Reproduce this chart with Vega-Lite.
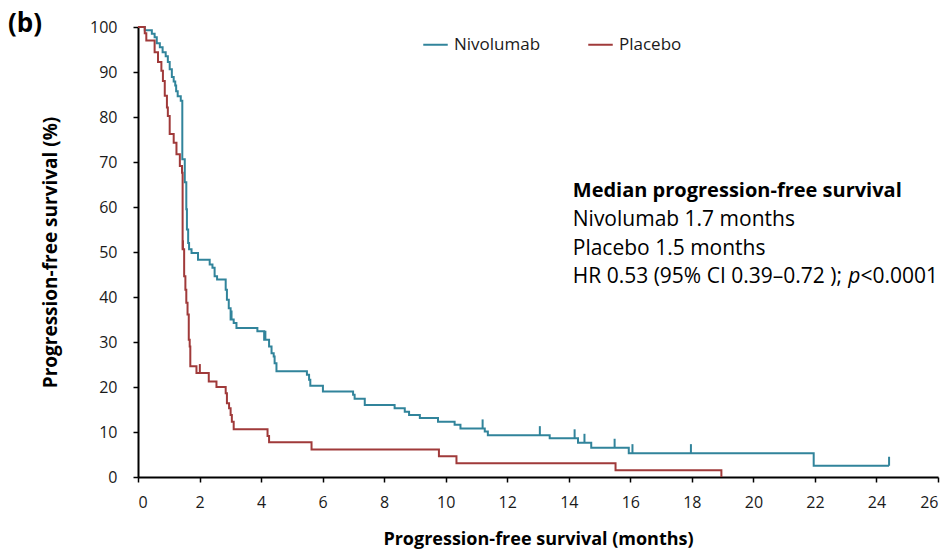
{
  "$schema": "https://vega.github.io/schema/vega-lite/v6.json",
  "width": 800,
  "height": 450,
  "autosize": {"type": "none"},
  "padding": {"left": 138, "top": 27, "right": 14, "bottom": 79},
  "background": "white",
  "config": {
    "font": "Open Sans",
    "view": {"stroke": null},
    "axis": {"grid": false, "domainColor": "black", "domainWidth": 2, "tickColor": "black", "tickWidth": 1.5, "tickSize": 5, "labelColor": "#1a1a1a", "labelFontSize": 16, "labelFont": "Open Sans", "titleFont": "Open Sans", "titleFontSize": 18, "titleFontWeight": "bold", "titleColor": "black"}
  },
  "title": {"text": "(b)", "anchor": "start", "frame": "group", "dx": -130, "fontSize": 26, "fontWeight": "bold", "font": "Open Sans", "color": "black", "offset": 0, "baseline": "middle", "dy": 31},
  "datasets": {
    "km": [
      {"group": "Nivolumab", "t": 0, "s": 100},
      {"group": "Nivolumab", "t": 0.22, "s": 99.3},
      {"group": "Nivolumab", "t": 0.45, "s": 98.5},
      {"group": "Nivolumab", "t": 0.54, "s": 97.7},
      {"group": "Nivolumab", "t": 0.61, "s": 96.4},
      {"group": "Nivolumab", "t": 0.71, "s": 95.5},
      {"group": "Nivolumab", "t": 0.80, "s": 94.4},
      {"group": "Nivolumab", "t": 0.90, "s": 93.5},
      {"group": "Nivolumab", "t": 0.97, "s": 92.2},
      {"group": "Nivolumab", "t": 1.03, "s": 90.6},
      {"group": "Nivolumab", "t": 1.10, "s": 88.9},
      {"group": "Nivolumab", "t": 1.16, "s": 87.9},
      {"group": "Nivolumab", "t": 1.21, "s": 87.0},
      {"group": "Nivolumab", "t": 1.24, "s": 85.7},
      {"group": "Nivolumab", "t": 1.29, "s": 84.6},
      {"group": "Nivolumab", "t": 1.39, "s": 83.6},
      {"group": "Nivolumab", "t": 1.44, "s": 70.6},
      {"group": "Nivolumab", "t": 1.52, "s": 65.5},
      {"group": "Nivolumab", "t": 1.57, "s": 59.5},
      {"group": "Nivolumab", "t": 1.59, "s": 55.0},
      {"group": "Nivolumab", "t": 1.63, "s": 52.0},
      {"group": "Nivolumab", "t": 1.66, "s": 50.6},
      {"group": "Nivolumab", "t": 1.74, "s": 49.8},
      {"group": "Nivolumab", "t": 1.95, "s": 48.3},
      {"group": "Nivolumab", "t": 2.33, "s": 47.2},
      {"group": "Nivolumab", "t": 2.42, "s": 46.5},
      {"group": "Nivolumab", "t": 2.49, "s": 44.6},
      {"group": "Nivolumab", "t": 2.57, "s": 43.9},
      {"group": "Nivolumab", "t": 2.85, "s": 41.6},
      {"group": "Nivolumab", "t": 2.89, "s": 39.4},
      {"group": "Nivolumab", "t": 2.95, "s": 37.5},
      {"group": "Nivolumab", "t": 3.01, "s": 35.0},
      {"group": "Nivolumab", "t": 3.11, "s": 34.2},
      {"group": "Nivolumab", "t": 3.20, "s": 33.1},
      {"group": "Nivolumab", "t": 3.88, "s": 32.4},
      {"group": "Nivolumab", "t": 4.10, "s": 30.5},
      {"group": "Nivolumab", "t": 4.26, "s": 29.0},
      {"group": "Nivolumab", "t": 4.34, "s": 27.5},
      {"group": "Nivolumab", "t": 4.41, "s": 26.8},
      {"group": "Nivolumab", "t": 4.44, "s": 25.3},
      {"group": "Nivolumab", "t": 4.50, "s": 23.5},
      {"group": "Nivolumab", "t": 5.49, "s": 22.7},
      {"group": "Nivolumab", "t": 5.56, "s": 21.6},
      {"group": "Nivolumab", "t": 5.60, "s": 20.3},
      {"group": "Nivolumab", "t": 6.01, "s": 19.0},
      {"group": "Nivolumab", "t": 6.99, "s": 18.3},
      {"group": "Nivolumab", "t": 7.04, "s": 17.4},
      {"group": "Nivolumab", "t": 7.37, "s": 16.0},
      {"group": "Nivolumab", "t": 8.34, "s": 15.3},
      {"group": "Nivolumab", "t": 8.67, "s": 14.5},
      {"group": "Nivolumab", "t": 8.81, "s": 13.8},
      {"group": "Nivolumab", "t": 9.16, "s": 13.1},
      {"group": "Nivolumab", "t": 9.75, "s": 12.3},
      {"group": "Nivolumab", "t": 10.29, "s": 11.6},
      {"group": "Nivolumab", "t": 10.48, "s": 10.8},
      {"group": "Nivolumab", "t": 11.27, "s": 10.1},
      {"group": "Nivolumab", "t": 11.37, "s": 9.3},
      {"group": "Nivolumab", "t": 13.38, "s": 8.6},
      {"group": "Nivolumab", "t": 14.30, "s": 7.6},
      {"group": "Nivolumab", "t": 14.73, "s": 6.5},
      {"group": "Nivolumab", "t": 15.95, "s": 5.3},
      {"group": "Nivolumab", "t": 21.96, "s": 2.5},
      {"group": "Nivolumab", "t": 24.41, "s": 2.5},
      {"group": "Placebo", "t": 0, "s": 100},
      {"group": "Placebo", "t": 0.22, "s": 98.6},
      {"group": "Placebo", "t": 0.27, "s": 97.0},
      {"group": "Placebo", "t": 0.54, "s": 94.4},
      {"group": "Placebo", "t": 0.65, "s": 92.2},
      {"group": "Placebo", "t": 0.76, "s": 90.3},
      {"group": "Placebo", "t": 0.81, "s": 88.0},
      {"group": "Placebo", "t": 0.87, "s": 84.7},
      {"group": "Placebo", "t": 0.94, "s": 82.1},
      {"group": "Placebo", "t": 0.97, "s": 80.2},
      {"group": "Placebo", "t": 1.03, "s": 76.2},
      {"group": "Placebo", "t": 1.16, "s": 74.3},
      {"group": "Placebo", "t": 1.25, "s": 71.7},
      {"group": "Placebo", "t": 1.36, "s": 69.1},
      {"group": "Placebo", "t": 1.43, "s": 67.6},
      {"group": "Placebo", "t": 1.45, "s": 50.6},
      {"group": "Placebo", "t": 1.50, "s": 44.6},
      {"group": "Placebo", "t": 1.54, "s": 41.6},
      {"group": "Placebo", "t": 1.57, "s": 38.7},
      {"group": "Placebo", "t": 1.61, "s": 36.1},
      {"group": "Placebo", "t": 1.65, "s": 30.5},
      {"group": "Placebo", "t": 1.68, "s": 29.0},
      {"group": "Placebo", "t": 1.70, "s": 24.6},
      {"group": "Placebo", "t": 1.90, "s": 23.1},
      {"group": "Placebo", "t": 2.30, "s": 21.2},
      {"group": "Placebo", "t": 2.55, "s": 20.0},
      {"group": "Placebo", "t": 2.85, "s": 18.6},
      {"group": "Placebo", "t": 2.89, "s": 16.4},
      {"group": "Placebo", "t": 2.96, "s": 15.3},
      {"group": "Placebo", "t": 3.01, "s": 13.8},
      {"group": "Placebo", "t": 3.05, "s": 12.3},
      {"group": "Placebo", "t": 3.11, "s": 10.6},
      {"group": "Placebo", "t": 4.21, "s": 9.1},
      {"group": "Placebo", "t": 4.26, "s": 7.7},
      {"group": "Placebo", "t": 5.64, "s": 6.1},
      {"group": "Placebo", "t": 9.78, "s": 4.6},
      {"group": "Placebo", "t": 10.35, "s": 3.05},
      {"group": "Placebo", "t": 15.52, "s": 1.5},
      {"group": "Placebo", "t": 18.96, "s": 0}
    ],
    "censor": [
      {"group": "Nivolumab", "t": 3.04, "s": 35.0},
      {"group": "Nivolumab", "t": 4.14, "s": 30.5},
      {"group": "Nivolumab", "t": 11.20, "s": 10.8},
      {"group": "Nivolumab", "t": 13.06, "s": 9.3},
      {"group": "Nivolumab", "t": 14.19, "s": 8.6},
      {"group": "Nivolumab", "t": 14.51, "s": 7.6},
      {"group": "Nivolumab", "t": 15.49, "s": 6.5},
      {"group": "Nivolumab", "t": 16.07, "s": 5.3},
      {"group": "Nivolumab", "t": 17.97, "s": 5.3},
      {"group": "Nivolumab", "t": 24.41, "s": 2.5},
      {"group": "Placebo", "t": 1.46, "s": 50.6},
      {"group": "Placebo", "t": 2.01, "s": 23.1}
    ],
    "boldnotes": [
      {"t": 14.13, "s": 62.2, "label": "Median progression-free survival"}
    ],
    "notes": [
      {"t": 14.13, "s": 55.8, "label": "Nivolumab 1.7 months"},
      {"t": 14.13, "s": 49.4, "label": "Placebo 1.5 months"},
      {"t": 14.13, "s": 43.1, "label": "HR 0.53 (95% CI 0.39–0.72 );"},
      {"t": 23.48, "s": 43.1, "label": "<0.0001"}
    ],
    "italicnotes": [
      {"t": 23.08, "s": 43.1, "label": "p"}
    ]
  },
  "layer": [
    {
      "data": {"name": "km"},
      "mark": {"type": "line", "interpolate": "step-after", "strokeWidth": 2},
      "encoding": {
        "x": {"field": "t", "type": "quantitative", "scale": {"domain": [0, 26], "nice": false}, "axis": {"values": [0,2,4,6,8,10,12,14,16,18,20,22,24,26], "title": "Progression-free survival (months)", "labelPadding": 12, "titlePadding": 20}},
        "y": {"field": "s", "type": "quantitative", "scale": {"domain": [0, 100], "nice": false}, "axis": {"values": [0,10,20,30,40,50,60,70,80,90,100], "title": "Progression-free survival (%)", "titleFontSize": 19, "labelPadding": 16, "titlePadding": 29}},
        "color": {"field": "group", "type": "nominal", "scale": {"domain": ["Nivolumab", "Placebo"], "range": ["#31849B", "#A03A3A"]},
          "legend": {"orient": "none", "legendX": 284, "legendY": 4, "direction": "horizontal", "title": null, "symbolType": "stroke", "symbolSize": 600, "symbolStrokeWidth": 2, "labelFontSize": 17, "labelFont": "Open Sans", "labelColor": "#1a1a1a", "columnPadding": 43, "labelOffset": 5}}
      }
    },
    {
      "data": {"name": "censor"},
      "mark": {"type": "point", "shape": "M0,0L0,-1", "size": 324, "strokeWidth": 2, "filled": false, "opacity": 1},
      "encoding": {
        "x": {"field": "t", "type": "quantitative"},
        "y": {"field": "s", "type": "quantitative"},
        "color": {"field": "group", "type": "nominal", "legend": null}
      }
    },
    {
      "data": {"name": "boldnotes"},
      "mark": {"type": "text", "baseline": "alphabetic", "fontSize": 20, "fontWeight": "bold", "font": "Open Sans", "color": "black", "align": "left"},
      "encoding": {
        "x": {"field": "t", "type": "quantitative"},
        "y": {"field": "s", "type": "quantitative"},
        "text": {"field": "label"}
      }
    },
    {
      "data": {"name": "notes"},
      "mark": {"type": "text", "baseline": "alphabetic", "fontSize": 21, "font": "Open Sans", "color": "black", "align": "left"},
      "encoding": {
        "x": {"field": "t", "type": "quantitative"},
        "y": {"field": "s", "type": "quantitative"},
        "text": {"field": "label"}
      }
    },
    {
      "data": {"name": "italicnotes"},
      "mark": {"type": "text", "baseline": "alphabetic", "fontSize": 21, "fontStyle": "italic", "font": "Open Sans", "color": "black", "align": "left"},
      "encoding": {
        "x": {"field": "t", "type": "quantitative"},
        "y": {"field": "s", "type": "quantitative"},
        "text": {"field": "label"}
      }
    }
  ]
}
